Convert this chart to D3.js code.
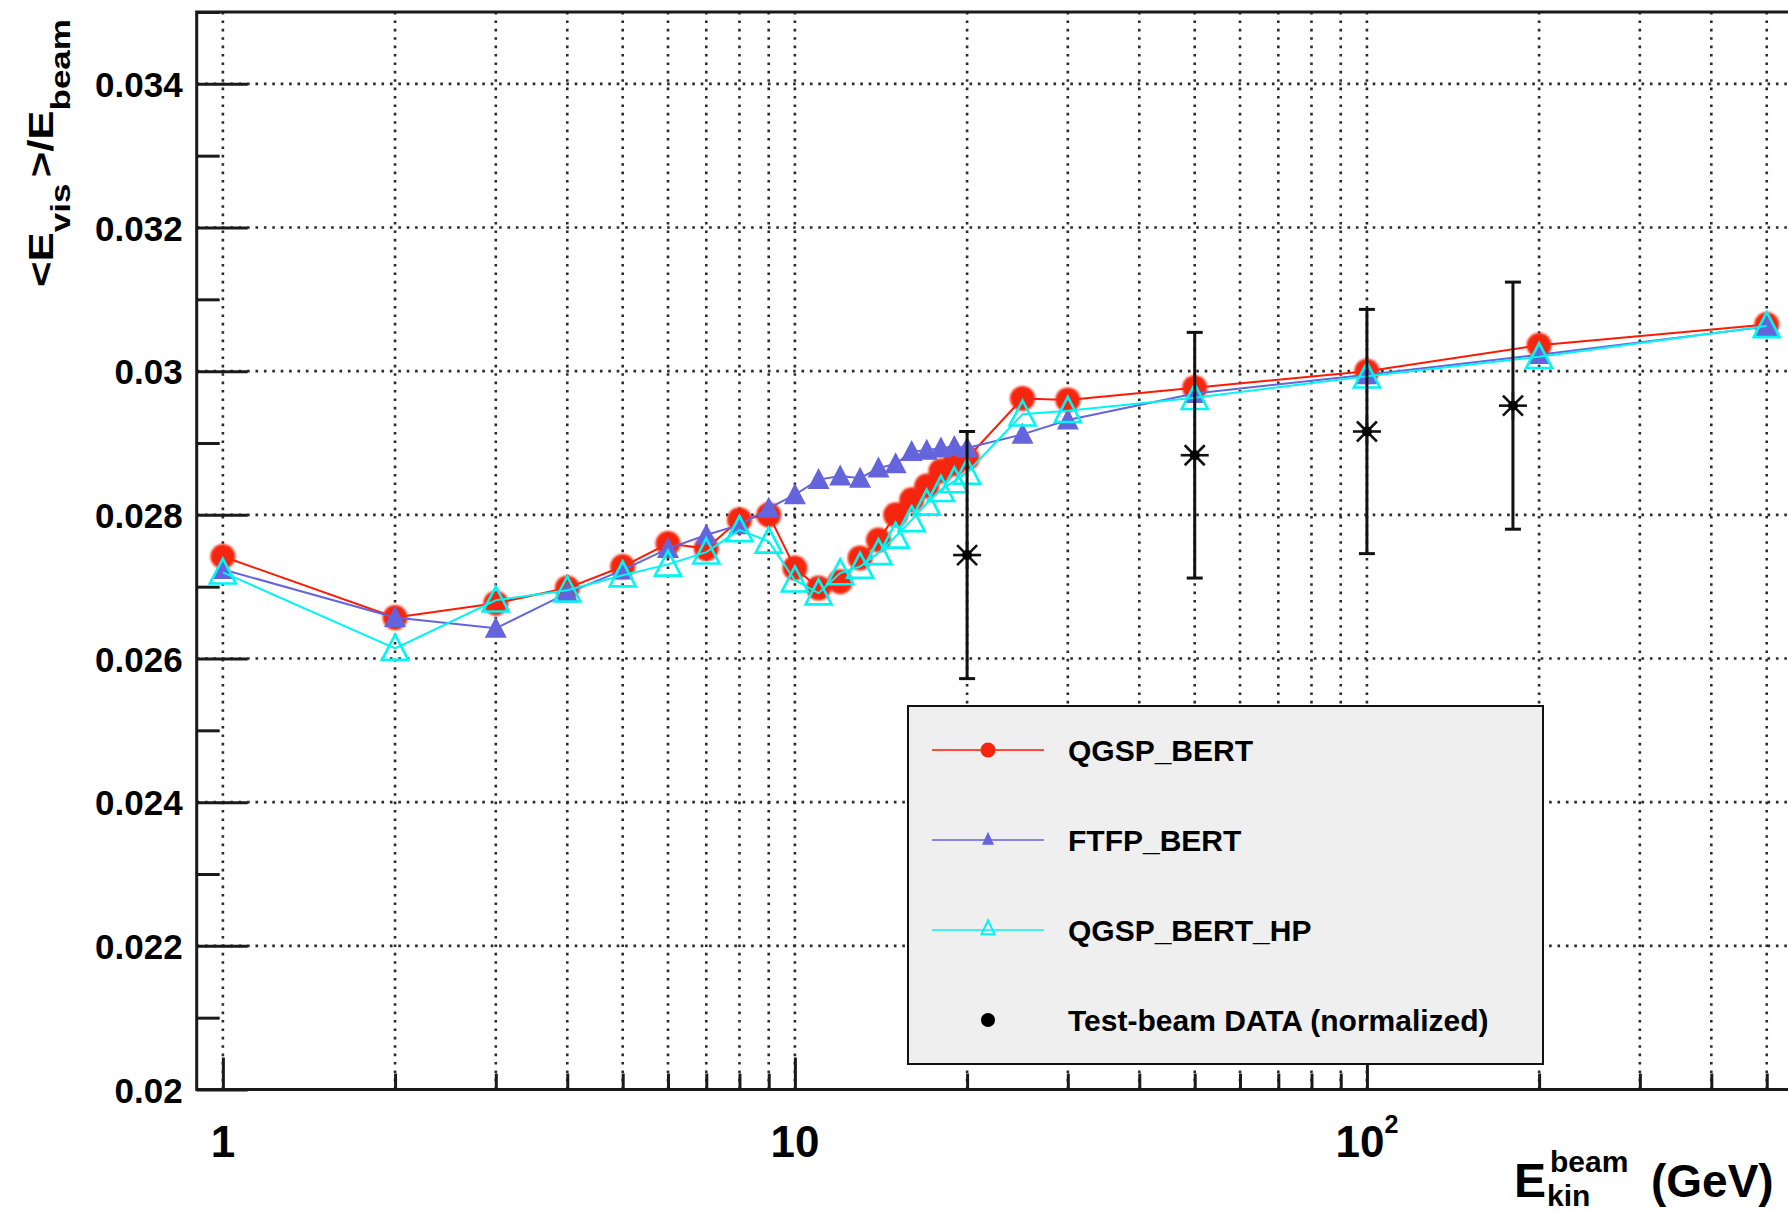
<!DOCTYPE html>
<html lang="en">
<head>
<meta charset="utf-8">
<script src="https://d3js.org/d3.v7.min.js"></script>
<style>
  body { margin: 0; background: #fff; }
  text { font-family: "Liberation Sans", Arial, Helvetica, sans-serif; font-weight: bold; fill: #000; }
</style>
</head>
<body>
<script>
// beam energies of the simulated points (GeV)
var energies = [1, 2, 3, 4, 5, 6, 7, 8, 9, 10, 11, 12, 13, 14, 15, 16, 17, 18, 19, 20, 25, 30, 50, 100, 200, 500];

// <E_vis>/E_beam for each physics list
var qgspBert   = [0.02742, 0.02657, 0.02677, 0.02698, 0.02728, 0.02760, 0.02753, 0.02793, 0.02800, 0.02726,
                  0.02698, 0.02707, 0.02740, 0.02765, 0.02800, 0.02821, 0.02840, 0.02861, 0.02871, 0.02879,
                  0.02962, 0.02960, 0.02977, 0.03000, 0.03036, 0.03065];
var ftfpBert   = [0.02724, 0.02657, 0.02642, 0.02691, 0.02723, 0.02753, 0.02772, 0.02786, 0.02809, 0.02828,
                  0.02849, 0.02854, 0.02851, 0.02865, 0.02871, 0.02888, 0.02890, 0.02893, 0.02895, 0.02893,
                  0.02912, 0.02932, 0.02969, 0.02995, 0.03023, 0.03062];
var qgspBertHp = [0.02720, 0.02614, 0.02681, 0.02695, 0.02716, 0.02731, 0.02748, 0.02779, 0.02763, 0.02709,
                  0.02691, 0.02719, 0.02728, 0.02747, 0.02770, 0.02793, 0.02816, 0.02835, 0.02847, 0.02859,
                  0.02940, 0.02945, 0.02963, 0.02993, 0.03020, 0.03063];

// test-beam data (normalized)
var dataEnergies = [20, 50, 100, 180];
var dataValues   = [0.02744, 0.02883, 0.02916, 0.02952];
var dataErrors   = [0.00172, 0.00171, 0.00170, 0.00172];

var yTicks = [0.02, 0.022, 0.024, 0.026, 0.028, 0.03, 0.032, 0.034];
var yTickLabels = ["0.02", "0.022", "0.024", "0.026", "0.028", "0.03", "0.032", "0.034"];
var yMinorTicks = [0.021, 0.023, 0.025, 0.027, 0.029, 0.031, 0.033, 0.035];
var xTicks = [1, 10, 100];
var xTickLabels = [["1", ""], ["10", ""], ["10", "2"]];
var legendLabels = ["QGSP_BERT", "FTFP_BERT", "QGSP_BERT_HP", "Test-beam DATA (normalized)"];

var W = 1788, H = 1213;
var svg = d3.select("body").append("svg")
  .attr("width", W).attr("height", H)
  .style("display", "block");
svg.append("rect").attr("width", W).attr("height", H).attr("fill", "#fff");

var defs = svg.append("defs");
defs.append("filter").attr("id", "soft").append("feGaussianBlur").attr("stdDeviation", 0.9);

var x = d3.scaleLog().domain([0.9, 560]).range([196.7, 1794.9]);
var y = d3.scaleLinear().domain([0.02, 0.035]).range([1089.5, 12]);

var xMinor = [];
[1, 10, 100].forEach(function (dec) {
  for (var k = 1; k <= 9; k++) {
    var v = k * dec;
    if (v >= 0.9 && v <= 560) xMinor.push(v);
  }
});

// grid
var gridColor = "#2a2a2a";
svg.append("g").selectAll("line").data(xMinor).enter().append("line")
  .attr("x1", function (d) { return x(d); }).attr("x2", function (d) { return x(d); })
  .attr("y1", y.range()[1]).attr("y2", y.range()[0])
  .attr("stroke", gridColor).attr("stroke-width", 2.6).attr("stroke-dasharray", "2.6 5.8");
svg.append("g").selectAll("line").data(yTicks).enter().append("line")
  .attr("x1", x.range()[0]).attr("x2", W)
  .attr("y1", function (d) { return y(d); }).attr("y2", function (d) { return y(d); })
  .attr("stroke", gridColor).attr("stroke-width", 2.6).attr("stroke-dasharray", "2.6 5.8");

// axes (ticks pointing into the frame)
var axisY = svg.append("g").attr("transform", "translate(" + x.range()[0] + ",0)")
  .call(d3.axisLeft(y).tickValues(yTicks).tickSize(-51).tickPadding(14)
    .tickFormat(function (d, i) { return yTickLabels[i]; }));
svg.append("g").attr("transform", "translate(" + x.range()[0] + ",0)")
  .call(d3.axisLeft(y).tickValues(yMinorTicks).tickSize(-23).tickFormat(""));
svg.append("g").attr("transform", "translate(0," + y.range()[0] + ")")
  .call(d3.axisBottom(x).tickValues(xTicks).tickSize(-32).tickFormat(""));
svg.append("g").attr("transform", "translate(0," + y.range()[0] + ")")
  .call(d3.axisBottom(x).tickValues(xMinor.filter(function (d) { return xTicks.indexOf(d) < 0; }))
    .tickSize(-16).tickFormat(""));
svg.selectAll(".domain").remove();
svg.selectAll(".tick line").attr("stroke", "#1a1a1a").attr("stroke-width", 3);
axisY.selectAll("text").attr("font-size", 35).attr("fill", "#000")
  .attr("font-family", "Liberation Sans, Arial, sans-serif").attr("font-weight", "bold")
  .attr("dy", "0.36em");

// x tick labels
var xl = svg.append("g").selectAll("text").data(xTicks).enter().append("text")
  .attr("x", function (d) { return x(d); }).attr("y", 1157)
  .attr("text-anchor", "middle").attr("font-size", 44);
xl.append("tspan").text(function (d, i) { return xTickLabels[i][0]; });
xl.append("tspan").attr("font-size", 25).attr("dy", -24)
  .text(function (d, i) { return xTickLabels[i][1]; });

// frame
svg.append("rect")
  .attr("x", x.range()[0]).attr("y", y.range()[1])
  .attr("width", x.range()[1] - x.range()[0]).attr("height", y.range()[0] - y.range()[1])
  .attr("fill", "none").attr("stroke", "#1a1a1a").attr("stroke-width", 3);

// series
function tri(cx, cy, hw, h) {
  return "M" + cx + "," + (cy - h * 0.55) + "L" + (cx + hw) + "," + (cy + h * 0.45) +
    "L" + (cx - hw) + "," + (cy + h * 0.45) + "Z";
}
var line = d3.line().x(function (d) { return x(d[0]); }).y(function (d) { return y(d[1]); });
var series = [
  { name: legendLabels[0], values: qgspBert, color: "#ff1a00", marker: "circle" },
  { name: legendLabels[1], values: ftfpBert, color: "#6464dc", marker: "tri" },
  { name: legendLabels[2], values: qgspBertHp, color: "#00f5f5", marker: "otri" }
];
series.forEach(function (s) {
  var pts = energies.map(function (e, i) { return [e, s.values[i]]; });
  svg.append("path").datum(pts).attr("d", line)
    .attr("fill", "none").attr("stroke", s.color).attr("stroke-width", 2);
  var g = svg.append("g");
  if (s.marker === "circle") {
    g.attr("filter", "url(#soft)");
    g.selectAll("circle").data(pts).enter().append("circle")
      .attr("cx", function (d) { return x(d[0]); }).attr("cy", function (d) { return y(d[1]); })
      .attr("r", 12.5).attr("fill", "#f5260c");
  } else if (s.marker === "tri") {
    g.selectAll("path").data(pts).enter().append("path")
      .attr("d", function (d) { return tri(x(d[0]), y(d[1]), 11, 21); })
      .attr("fill", s.color);
  } else {
    g.selectAll("path").data(pts).enter().append("path")
      .attr("d", function (d) { return tri(x(d[0]), y(d[1]), 13, 25); })
      .attr("fill", "none").attr("stroke", s.color).attr("stroke-width", 2.6);
  }
});

// test-beam data with error bars
var dg = svg.append("g").selectAll("g").data(dataEnergies).enter().append("g");
dg.append("line")
  .attr("x1", function (d) { return x(d); }).attr("x2", function (d) { return x(d); })
  .attr("y1", function (d, i) { return y(dataValues[i] + dataErrors[i]); })
  .attr("y2", function (d, i) { return y(dataValues[i] - dataErrors[i]); })
  .attr("stroke", "#111").attr("stroke-width", 3);
[1, -1].forEach(function (sgn) {
  dg.append("line")
    .attr("x1", function (d) { return x(d) - 8; }).attr("x2", function (d) { return x(d) + 8; })
    .attr("y1", function (d, i) { return y(dataValues[i] + sgn * dataErrors[i]); })
    .attr("y2", function (d, i) { return y(dataValues[i] + sgn * dataErrors[i]); })
    .attr("stroke", "#111").attr("stroke-width", 3);
});
[[-14, 0, 14, 0], [-10, -10, 10, 10], [-10, 10, 10, -10], [0, -14, 0, 14]].forEach(function (s) {
  dg.append("line")
    .attr("x1", function (d) { return x(d) + s[0]; }).attr("x2", function (d) { return x(d) + s[2]; })
    .attr("y1", function (d, i) { return y(dataValues[i]) + s[1]; })
    .attr("y2", function (d, i) { return y(dataValues[i]) + s[3]; })
    .attr("stroke", "#111").attr("stroke-width", 2.6);
});
dg.append("circle")
  .attr("cx", function (d) { return x(d); }).attr("cy", function (d, i) { return y(dataValues[i]); })
  .attr("r", 5).attr("fill", "#000");

// legend
var lg = svg.append("g");
lg.append("rect").attr("x", 908).attr("y", 706).attr("width", 635).attr("height", 358)
  .attr("fill", "#efefef").attr("stroke", "#111").attr("stroke-width", 2);
var rowY = [750, 840, 930, 1020];
legendLabels.forEach(function (name, i) {
  var cy = rowY[i];
  if (i < 3) {
    lg.append("line").attr("x1", 932).attr("x2", 1044).attr("y1", cy).attr("y2", cy)
      .attr("stroke", series[i].color).attr("stroke-width", 1.6);
  }
  if (i === 0) {
    lg.append("circle").attr("cx", 988).attr("cy", cy).attr("r", 7.5).attr("fill", "#f5260c");
  } else if (i === 1) {
    lg.append("path").attr("d", tri(988, cy - 1, 6, 13)).attr("fill", series[1].color);
  } else if (i === 2) {
    lg.append("path").attr("d", tri(988, cy - 2, 6.5, 14)).attr("fill", "none")
      .attr("stroke", series[2].color).attr("stroke-width", 2);
  } else {
    lg.append("circle").attr("cx", 988).attr("cy", cy).attr("r", 7).attr("fill", "#000");
  }
  lg.append("text").attr("x", 1068).attr("y", cy + 11).attr("font-size", 30).text(name);
});

// axis titles
var yt = svg.append("text").attr("transform", "translate(53,287) rotate(-90) scale(1.25,1)")
  .attr("font-size", 35);
yt.append("tspan").text("<E");
yt.append("tspan").attr("font-size", 28).attr("dy", 17).text("vis");
yt.append("tspan").attr("dy", -17).attr("dx", 5).text(">/E");
yt.append("tspan").attr("font-size", 28).attr("dy", 17).text("beam");

svg.append("text").attr("x", 1514).attr("y", 1197).attr("font-size", 48).text("E");
svg.append("text").attr("x", 1550).attr("y", 1172).attr("font-size", 30).text("beam");
svg.append("text").attr("x", 1547).attr("y", 1206).attr("font-size", 30).text("kin");
svg.append("text").attr("x", 1651).attr("y", 1197).attr("font-size", 46).text("(GeV)");
</script>
</body>
</html>
